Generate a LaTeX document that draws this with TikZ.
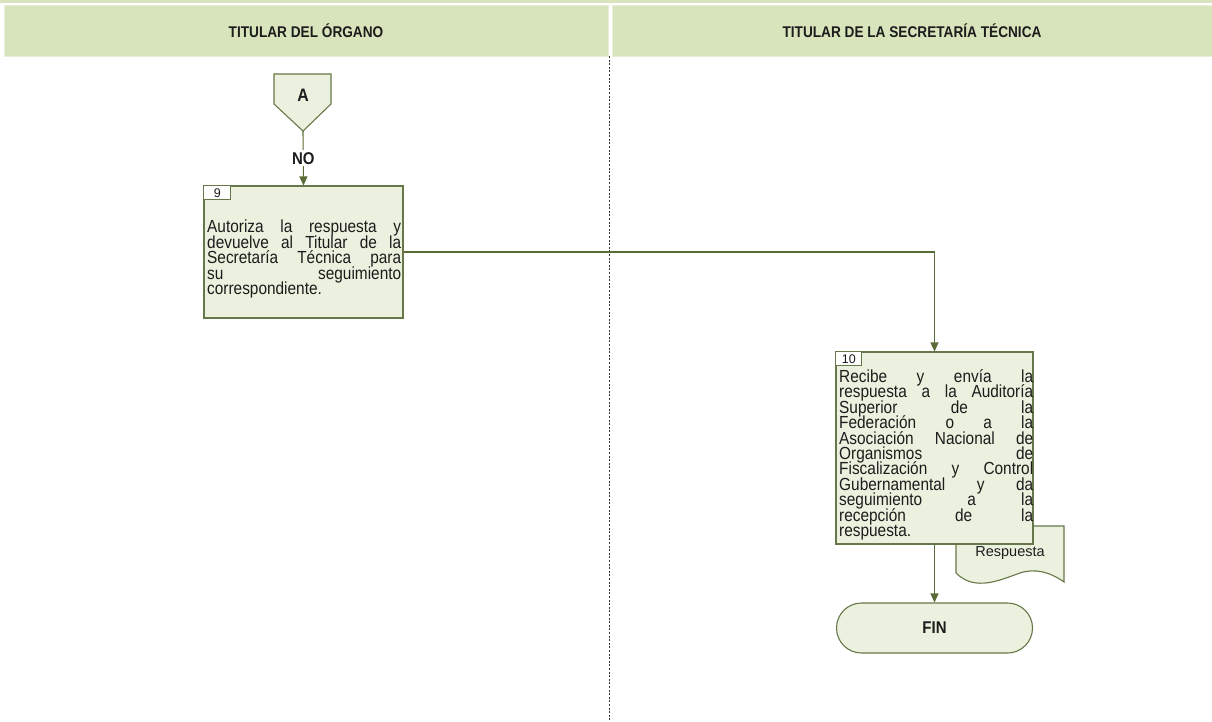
\documentclass[tikz,border=0pt]{standalone}
\usepackage{fontspec}
\setmainfont{Liberation Sans}
\newfontfamily\condfont[FakeStretch=0.88]{Liberation Sans}
\usetikzlibrary{arrows.meta}
\definecolor{hdrfill}{HTML}{D8E4BC}
\definecolor{boxfill}{HTML}{EBF1DE}
\definecolor{edge}{HTML}{66774A}
\definecolor{flowcol}{HTML}{5A6B35}
\definecolor{ink}{HTML}{1C1C1C}
\newcommand\bodyfont{\condfont\fontsize{17.5}{15.4}\selectfont\lineskiplimit=-20pt\tolerance=10000\hbadness=10000\hyphenpenalty=10000}
\begin{document}
\begin{tikzpicture}[x=1pt,y=-1pt,
  hdr/.style={fill=hdrfill, draw=hdrfill!60!white, line width=0.6pt, text=ink,
    font=\condfont\fontsize{15.5}{16}\selectfont\bfseries, inner sep=0pt},
  procbox/.style={draw=edge, fill=boxfill, line width=1.1pt, inner sep=0pt},
  tagbox/.style={draw=edge, fill=white, line width=0.9pt, inner sep=0pt,
    font=\fontsize{12.5}{12}\selectfont, text=ink, anchor=north west},
  bodytext/.style={text width=194pt, align=justify, inner sep=0pt,
    font=\bodyfont, text=ink, anchor=north west},
  flow/.style={draw=flowcol, line width=1.1pt, -{Triangle[length=9pt,width=8pt]}},
  boldlbl/.style={font=\condfont\fontsize{18}{18}\selectfont\bfseries, text=ink, inner sep=1pt},
  divider/.style={draw=black!80, line width=1.2pt, dash pattern=on 2pt off 1.6pt}]
\useasboundingbox (0,0) rectangle (1212,721);

% lane headers
\fill[hdrfill] (0,0) rectangle (1212,2.5);
\node[hdr, minimum width=604, minimum height=51] (h1) at (306,30.5) {TITULAR DEL ÓRGANO};
\node[hdr, minimum width=600, minimum height=51] (h2) at (912,30.5) {TITULAR DE LA SECRETARÍA TÉCNICA};

% lane divider
\coordinate (dtop) at (609.5,56);
\coordinate (dbot) at (609.5,721);
\draw[divider] (dtop) -- (dbot);

% off-page connector A
\draw[procbox] (274,74) -- (331,74) -- (331,104) -- (303,131) -- (274,104) -- cycle;
\node[boldlbl] (conA) at (303,95) {A};
\coordinate (Abot) at (303,131);

% step 9
\node[procbox, minimum width=199, minimum height=132] (b9) at (303.5,252) {};
\node[tagbox, minimum width=27, minimum height=14] (t9) at (b9.north west) {9};
\node[bodytext] (x9) at (207,220) {Autoriza la respuesta y\linebreak
devuelve al Titular de la\linebreak
Secretaría Técnica para\linebreak
su seguimiento\linebreak
correspondiente.};

% output document
\draw[procbox] (956,526) -- (1064,526) -- (1064,582)
  .. controls (1050,572) and (1035,568) .. (1020,573)
  .. controls (1000,580) and (975,592) .. (956,573) -- cycle;
\node[font=\fontsize{14.5}{15}\selectfont, text=ink] (doc) at (1010,553) {Respuesta};

% step 10
\node[procbox, minimum width=197, minimum height=192] (b10) at (934.5,448) {};
\node[tagbox, minimum width=26, minimum height=14] (t10) at (b10.north west) {10};
\node[bodytext] (x10) at (839,369.5) {Recibe y envía la\linebreak
respuesta a la Auditoría\linebreak
Superior de la\linebreak
Federación o a la\linebreak
Asociación Nacional de\linebreak
Organismos de\linebreak
Fiscalización y Control\linebreak
Gubernamental y da\linebreak
seguimiento a la\linebreak
recepción de la\linebreak
respuesta.};

% terminator
\node[procbox, rounded corners=25pt, minimum width=196, minimum height=50,
  font=\condfont\fontsize{17}{17}\selectfont\bfseries, text=ink] (fin) at (934.5,628) {FIN};

% connectors
\draw[flow] (Abot) -- (b9.north)
  node[pos=0.5, fill=white, boldlbl, font=\condfont\fontsize{17}{17}\selectfont\bfseries, inner sep=2pt] (no) {NO};
\draw[flow] (b9.east) -| (b10.north);
\draw[flow] (b10.south) -- (fin.north);
\end{tikzpicture}
\end{document}
